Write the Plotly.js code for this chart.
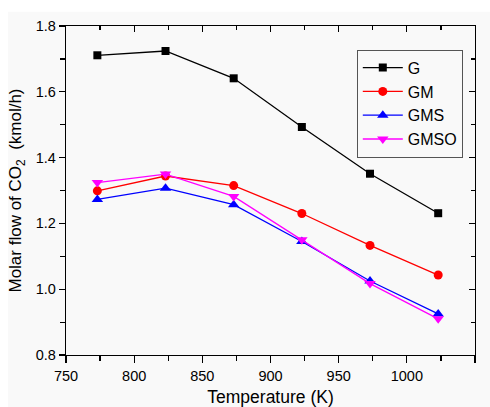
<!DOCTYPE html>
<html>
<head>
<meta charset="utf-8">
<script src="https://cdn.plot.ly/plotly-3.0.1.min.js"></script>
<style>html,body{margin:0;padding:0;background:#fff;}#chart{width:490px;height:407px;}</style>
</head>
<body>
<div id="chart"></div>
<script>
var temperature = [773, 823, 873, 923, 973, 1023];
var seriesNames = ["G", "GM", "GMS", "GMSO"];
var valuesG    = [1.711, 1.724, 1.641, 1.493, 1.351, 1.231];
var valuesGM   = [1.299, 1.344, 1.315, 1.230, 1.133, 1.043];
var valuesGMS  = [1.273, 1.307, 1.257, 1.145, 1.025, 0.925];
var valuesGMSO = [1.324, 1.350, 1.282, 1.150, 1.017, 0.910];
var xTicks = [750, 800, 850, 900, 950, 1000, 1050];
var yTicks = [0.8, 1.0, 1.2, 1.4, 1.6, 1.8];

var colors = ["#000000", "#ff0000", "#0000ff", "#ff00ff"];
var symbols = ["square", "circle", "triangle-up", "triangle-down"];
var sizes = [8, 9, 10, 10];
var allValues = [valuesG, valuesGM, valuesGMS, valuesGMSO];

var traces = allValues.map(function (vals, i) {
  return {
    x: temperature, y: vals, name: seriesNames[i], type: "scatter", mode: "lines+markers",
    line: {color: colors[i], width: 1.3},
    marker: {symbol: symbols[i], size: sizes[i], color: colors[i]}
  };
});

var font = "Arial, 'Liberation Sans', sans-serif";
var layout = {
  width: 490, height: 407,
  margin: {l: 66, r: 15, t: 26, b: 52},
  paper_bgcolor: "#ffffff",
  plot_bgcolor: "rgba(0,0,0,0)",
  font: {family: font, color: "#000", size: 14.5},
  showlegend: true,
  legend: {
    x: 0.711, y: 0.928, xanchor: "left", yanchor: "top",
    bgcolor: "rgba(0,0,0,0)", bordercolor: "#555", borderwidth: 1,
    font: {family: font, size: 16, color: "#000"},
    itemwidth: 40,
    tracegroupgap: 0
  },
  xaxis: {
    range: [750, 1050], tickvals: xTicks, ticktext: xTicks.map(String),
    ticks: "outside", ticklen: 7, tickwidth: 1.2, tickcolor: "#000",
    minor: {ticks: "outside", ticklen: 5, tickwidth: 1.2, tickcolor: "#000", dtick: 25, tick0: 750},
    showline: true, linecolor: "#000", linewidth: 1.2, mirror: true,
    showgrid: false, zeroline: false,
    tickfont: {size: 14.5},
    title: {text: "Temperature (K)", font: {size: 17.5}, standoff: 12}
  },
  yaxis: {
    range: [0.8, 1.8], tickvals: yTicks, ticktext: yTicks.map(function (v) { return v.toFixed(1); }),
    ticks: "outside", ticklen: 6, tickwidth: 1.2, tickcolor: "#000",
    minor: {ticks: "outside", ticklen: 5, tickwidth: 1.2, tickcolor: "#000", dtick: 0.1, tick0: 0.8},
    showline: true, linecolor: "#000", linewidth: 1.2, mirror: true,
    showgrid: false, zeroline: false,
    tickfont: {size: 14.5},
    title: {text: "Molar flow of CO<sub>2</sub>  (kmol/h)", font: {size: 17}, standoff: 9}
  },
  xaxis2: {
    overlaying: "x", side: "top", range: [750, 1050], tickvals: xTicks, showticklabels: false,
    ticks: "inside", ticklen: 6, tickwidth: 1.2, tickcolor: "#000",
    minor: {ticks: "inside", ticklen: 4, tickwidth: 1.2, tickcolor: "#000", dtick: 25, tick0: 750},
    showgrid: false, zeroline: false, showline: false
  },
  yaxis2: {
    overlaying: "y", side: "right", range: [0.8, 1.8], tickvals: yTicks, showticklabels: false,
    ticks: "inside", ticklen: 6, tickwidth: 1.2, tickcolor: "#000",
    minor: {ticks: "inside", ticklen: 4, tickwidth: 1.2, tickcolor: "#000", dtick: 0.1, tick0: 0.8},
    showgrid: false, zeroline: false, showline: false
  },
  shapes: [{
    type: "rect", xref: "paper", yref: "paper", layer: "below",
    x0: -0.142, x1: 1.1, y0: -0.2, y1: 1.043,
    fillcolor: "#f9f9f9", line: {width: 0}
  }]
};

traces.push({x: [750], y: [0.8], xaxis: "x2", yaxis: "y2", mode: "markers",
  marker: {opacity: 0}, showlegend: false, hoverinfo: "skip"});

Plotly.newPlot("chart", traces, layout, {displayModeBar: false, staticPlot: true});
</script>
</body>
</html>
